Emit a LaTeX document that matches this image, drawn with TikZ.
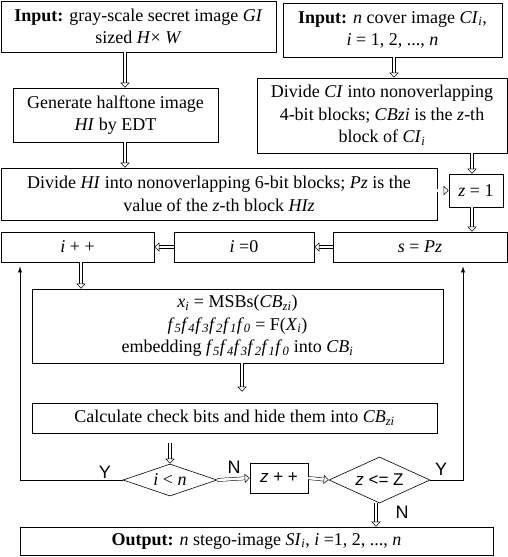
\documentclass[tikz,border=0pt]{standalone}
\usepackage{fontspec}
\setmainfont{Liberation Serif}
\setsansfont{Liberation Sans}
\usetikzlibrary{shapes.geometric,arrows.meta,calc}
\begin{document}
\begin{tikzpicture}[x=1pt,y=-1pt,
  box/.style={draw, line width=0.6pt, align=center, inner sep=0pt, font=\fontsize{18}{22.5}\selectfont},
  dia/.style={draw, line width=0.6pt, diamond, inner sep=0pt, font=\fontsize{18}{22.5}\selectfont},
  harrow/.style={double distance=2.6pt, line width=0.5pt, -{Triangle[open,length=5pt,width=9pt]}},
  sarrow/.style={line width=0.6pt, -{Latex[length=6pt,width=4pt]}},
  lbl/.style={font=\sffamily\fontsize{18}{18}\selectfont, inner sep=0pt}]
\useasboundingbox (0,0) rectangle (508,557);
\node[box, minimum width=275, minimum height=51] (in1) at (138.5,26.5)
  {\textbf{Input:} gray-scale secret image \textit{GI}\\ sized \textit{H}× \textit{W}};
\node[box, minimum width=205, minimum height=54] (gen) at (115.5,115)
  {Generate halftone image\\ \textit{HI} by EDT};
\node[box, minimum width=219, minimum height=54] (in2) at (392.5,30)
  {\textbf{Input:} \textit{n} cover image \textit{CI}\textsubscript{\textit{i}},\\ \textit{i} = 1, 2, ..., \textit{n}};
\node[box, minimum width=250, minimum height=75] (divci) at (382,115.5)
  {Divide \textit{CI} into nonoverlapping\\ 4-bit blocks; \textit{CBzi} is the \textit{z}-th\\ block of \textit{CI}\textsubscript{\textit{i}}};
\node[box, minimum width=436, minimum height=52] (divhi) at (219,194)
  {Divide \textit{HI} into nonoverlapping 6-bit blocks; \textit{Pz} is the\\ value of the \textit{z}-th block \textit{HIz}};
\node[box, minimum width=54, minimum height=33] (z1) at (476,190.5) {\textit{z} = 1};
\node[box, minimum width=153, minimum height=30] (ipp) at (77.5,247) {\textit{i} + +};
\node[box, minimum width=140, minimum height=30] (i0) at (244,247) {\textit{i} =0};
\node[box, minimum width=174, minimum height=30] (s) at (420,247) {\textit{s} = \textit{Pz}};
\node[box, minimum width=411, minimum height=74] (msb) at (237.5,326)
  {\textit{x}\textsubscript{\textit{i}} = MSBs(\textit{CB}\textsubscript{\textit{zi}})\\
   \textit{f}\textsubscript{\textit{5}}\textit{f}\textsubscript{\textit{4}}\textit{f}\textsubscript{\textit{3}}\textit{f}\textsubscript{\textit{2}}\textit{f}\textsubscript{\textit{1}}\textit{f}\textsubscript{\textit{0}} = F(\textit{X}\textsubscript{\textit{i}})\\
   embedding \textit{f}\textsubscript{\textit{5}}\textit{f}\textsubscript{\textit{4}}\textit{f}\textsubscript{\textit{3}}\textit{f}\textsubscript{\textit{2}}\textit{f}\textsubscript{\textit{1}}\textit{f}\textsubscript{\textit{0}} into \textit{CB}\textsubscript{\textit{i}}};
\node[box, minimum width=405, minimum height=30] (calc) at (234.5,418)
  {Calculate check bits and hide them into \textit{CB}\textsubscript{\textit{zi}}};
\node[dia, minimum width=94, minimum height=32, aspect=3] (d1) at (170,480) {\textit{i} < \textit{n}};
\node[box, minimum width=58, minimum height=30, font=\sffamily\fontsize{17}{17}\selectfont] (zpp) at (279,478) {\textit{z} + +};
\node[dia, minimum width=101, minimum height=46, aspect=2.2, font=\sffamily\fontsize{17}{17}\selectfont] (d2) at (379.5,480) {\textit{z} <= Z};
\node[box, minimum width=473, minimum height=28] (out) at (256.5,541)
  {\textbf{Output:} \textit{n} stego-image \textit{SI}\textsubscript{\textit{i}}, \textit{i} =1, 2, ..., \textit{n}};
% hollow arrows
\draw[harrow] ([xshift=-13.5]in1.south) -- ([xshift=9.5]gen.north);
\draw[harrow] ([xshift=9.5]gen.south) -- ([xshift=-94]divhi.north);
\draw[harrow] ([xshift=1.5]in2.south) -- ([xshift=12]divci.north);
\draw[harrow] ([xshift=90]divci.south) -- ([xshift=-4]z1.north);
\draw[harrow] (divhi.east |- z1.west) -- (z1.west);
\draw[harrow] ([xshift=-4]z1.south) -- ([xshift=52]s.north);
\draw[harrow] (s.west) -- (i0.east);
\draw[harrow] (i0.west) -- (ipp.east);
\draw[harrow] ([xshift=3.5]ipp.south) -- ([xshift=-156.5]msb.north);
\draw[harrow, shorten >=11pt] ([xshift=4.5]msb.south) -- ([xshift=7.5]calc.north);
\draw[harrow, shorten <=10pt] ([xshift=-64.5]calc.south) -- (d1.north);
\draw[harrow] (d1.east) -- (zpp.west);
\draw[harrow] (zpp.east) -- (d2.west);
\draw[harrow] ([xshift=-3.5]d2.south) -- ([xshift=119.5]out.north);
% loop-back lines
\draw[sarrow, shorten >=4pt] (d1.west) -| ([xshift=-57.5]ipp.south);
\draw[sarrow, shorten >=4pt] (d2.east) -| ([xshift=43]s.south);
% labels
\node[lbl] (ly1) at (105,472) {Y};
\node[lbl] (ln1) at (234,467) {N};
\node[lbl] (ly2) at (441,469) {Y};
\node[lbl] (ln2) at (402,512) {N};
\end{tikzpicture}
\end{document}
